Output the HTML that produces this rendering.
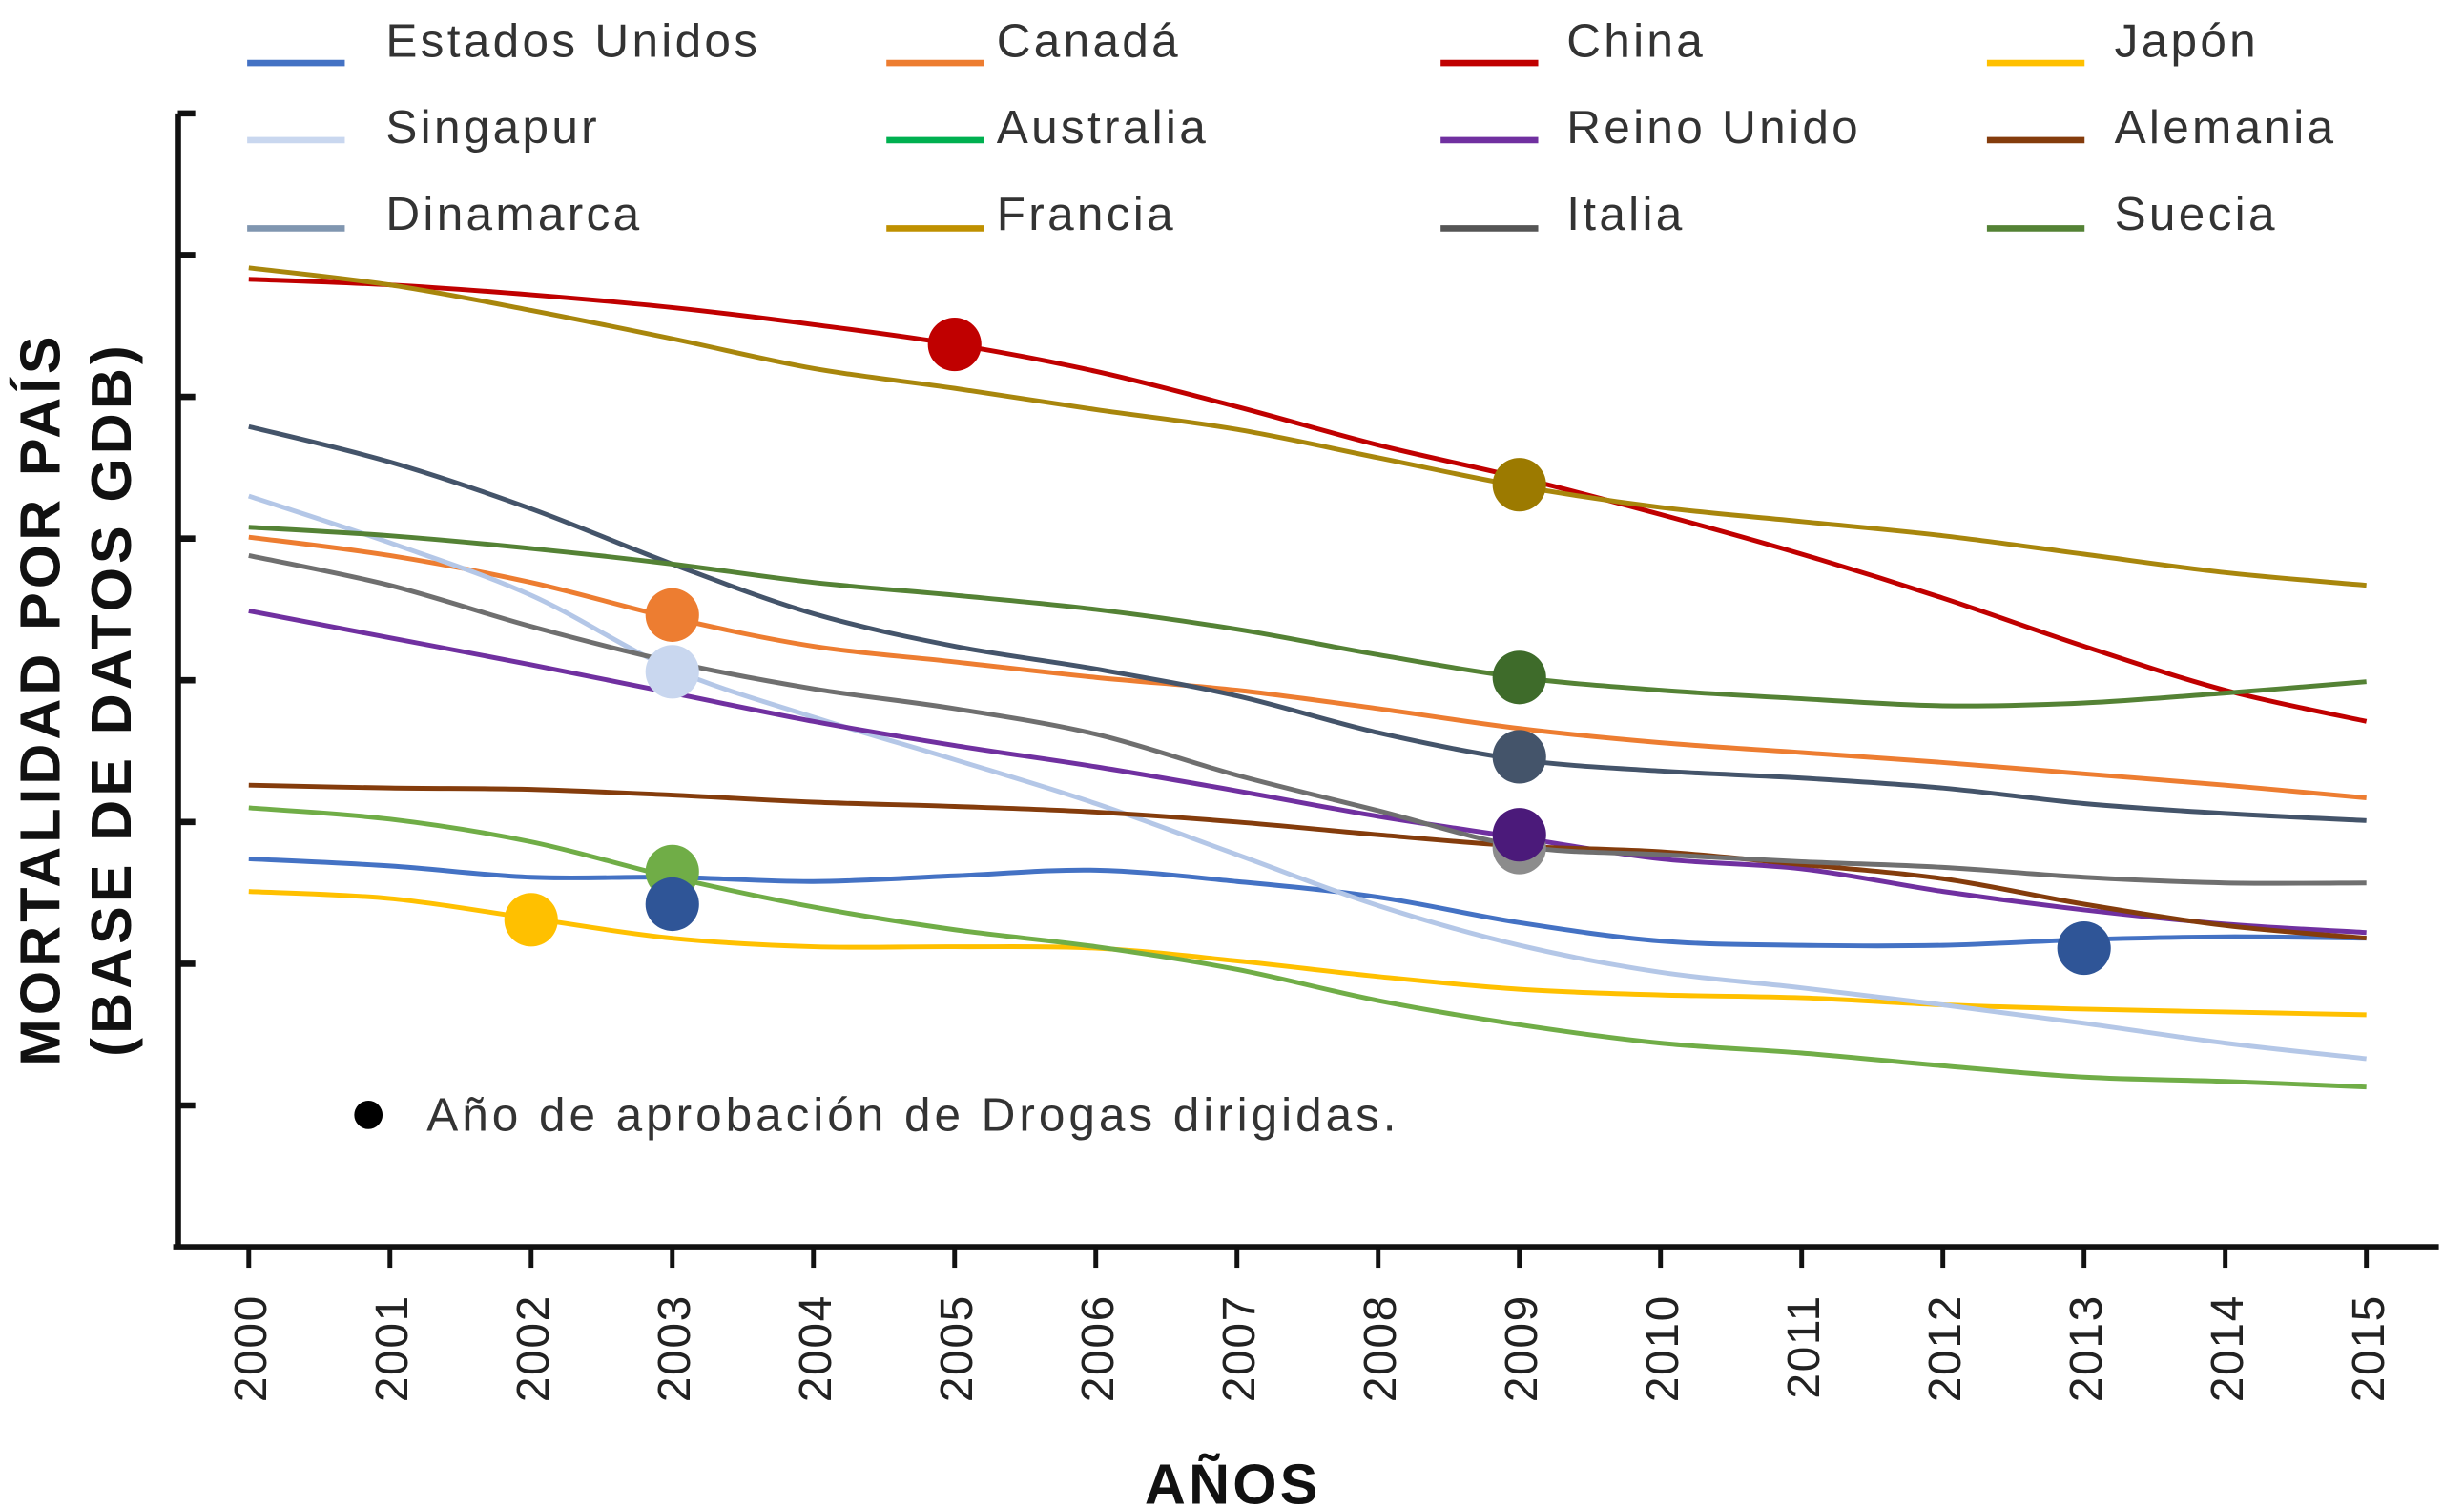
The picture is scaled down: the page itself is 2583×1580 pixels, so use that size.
<!DOCTYPE html>
<html><head><meta charset="utf-8"><style>
html,body{margin:0;padding:0;background:#fff;}
svg{display:block;font-family:"Liberation Sans",sans-serif;}
</style></head><body>
<svg id="chart" width="2583" height="1580" viewBox="0 0 1565 957" preserveAspectRatio="none" xmlns="http://www.w3.org/2000/svg">
<g id="axes"></g>
<g id="lines"></g>
<g id="dots"></g>
<g id="legend"></g>
<text transform="translate(38,444) rotate(-90)" text-anchor="middle" font-size="36" font-weight="bold" letter-spacing="2.5" fill="#111">MORTALIDAD POR PAÍS</text>
<text transform="translate(83,444) rotate(-90)" text-anchor="middle" font-size="36" font-weight="bold" letter-spacing="2.5" fill="#111">(BASE DE DATOS GDB)</text>
<text x="783" y="955" text-anchor="middle" font-size="36" font-weight="bold" letter-spacing="2" fill="#111">AÑOS</text>
<circle cx="234" cy="708" r="9" fill="#000"/>
<text x="271" y="718" font-size="30" letter-spacing="2.4" fill="#333">Año de aprobación de Drogas dirigidas.</text>
</svg>
<script>
const years = [2000,2001,2002,2003,2004,2005,2006,2007,2008,2009,2010,2011,2012,2013,2014,2015];
const yTicks = [10,20,30,40,50,60,70,80];
const seriesNames = ["Estados Unidos","Canadá","China","Japón","Singapur","Australia","Reino Unido","Alemania","Dinamarca","Francia","Italia","Suecia"];
const seriesColors = ["#4472c4","#ed7d31","#c00000","#ffc000","#b4c7e7","#70ad47","#7030a0","#843c0c","#44546a","#a8860c","#6f6f6f","#548235"];
const legendColors = ["#4472c4","#ed7d31","#c00000","#ffc000","#c9d7ef","#00b050","#7030a0","#843c0c","#8096b0","#bf9000","#555555","#548235"];
const usValues = [27.4,26.9,26.1,26.1,25.8,26.2,26.6,25.8,24.7,22.9,21.6,21.3,21.3,21.7,21.9,21.8];
const canadaValues = [50.1,48.8,46.9,44.4,42.4,41.3,40.2,39.3,38.0,36.6,35.6,34.9,34.2,33.4,32.6,31.7];
const chinaValues = [68.3,67.9,67.2,66.3,65.1,63.7,61.8,59.3,56.6,54.3,51.7,48.9,45.8,42.4,39.3,37.1];
const japonValues = [25.1,24.6,23.2,21.8,21.2,21.2,21.1,20.2,19.1,18.2,17.8,17.6,17.1,16.8,16.6,16.4];
const singapurValues = [53.0,49.7,46.0,40.8,37.4,34.4,31.3,27.7,24.1,21.3,19.4,18.3,17.1,15.8,14.4,13.3];
const australiaValues = [31.0,30.2,28.6,26.1,24.0,22.4,21.2,19.6,17.4,15.7,14.4,13.7,12.8,12.0,11.7,11.3];
const reinoUnidoValues = [44.9,43.0,41.1,39.1,37.1,35.4,33.9,32.2,30.4,28.9,27.4,26.7,25.1,23.8,22.8,22.2];
const alemaniaValues = [32.6,32.4,32.3,31.9,31.4,31.1,30.7,30.0,29.1,28.3,27.9,27.0,26.0,24.2,22.7,21.8];
const dinamarcaValues = [57.9,55.4,52.1,48.2,44.7,42.4,40.8,38.9,36.3,34.4,33.6,33.1,32.4,31.3,30.6,30.1];
const franciaValues = [69.1,67.9,66.1,64.1,62.0,60.6,59.1,57.7,55.7,53.7,52.2,51.2,50.2,48.9,47.6,46.7];
const italiaValues = [48.8,46.7,43.8,41.3,39.4,38.0,36.2,33.3,30.8,28.3,27.7,27.2,26.8,26.1,25.7,25.7];
const sueciaValues = [50.8,50.2,49.3,48.2,46.9,46.0,45.0,43.6,41.8,40.2,39.3,38.7,38.2,38.4,39.1,39.9];
const allValues = [usValues,canadaValues,chinaValues,japonValues,singapurValues,australiaValues,reinoUnidoValues,alemaniaValues,dinamarcaValues,franciaValues,italiaValues,sueciaValues];
const dotSeries = [2,9,1,4,5,0,3,11,8,10,6,0];
const dotYears = [2005,2009,2003,2003,2003,2003,2002,2009,2009,2009,2009,2013];
const dotValues = [63.7,53.8,44.6,40.6,26.5,24.2,23.1,40.2,34.6,28.2,29.1,21.1];
const dotColors = ["#c00000","#9c7a00","#ed7d31","#c9d7ef","#70ad47","#2f5597","#ffc000","#3e6b2a","#44546a","#8c8c8c","#4b1a7a","#2f5597"];

const NS="http://www.w3.org/2000/svg";
const x0=158, xStep=(1503-158)/15;
function xs(yr){return x0+(yr-2000)*xStep;}
function ys(v){return 792-v*9;}
function mk(tag,attrs,parent){const e=document.createElementNS(NS,tag);for(const k in attrs)e.setAttribute(k,attrs[k]);parent.appendChild(e);return e;}

const axes=document.getElementById('axes');
let e=mk('line',{x1:113,y1:72,x2:113,y2:793,stroke:'#111','stroke-width':4},axes);


e=mk('line',{x1:110,y1:792,x2:1549,y2:792,stroke:'#111','stroke-width':4},axes);


yTicks.forEach(t=>{
  const tk=mk('line',{x1:113,y1:ys(t),x2:124,y2:ys(t),stroke:'#111','stroke-width':4},axes);
  
  
});
years.forEach(yr=>{
  const tk=mk('line',{x1:xs(yr),y1:792,x2:xs(yr),y2:805,stroke:'#111','stroke-width':3},axes);
  
  
  const lb=mk('text',{transform:`translate(${xs(yr)+11},822) rotate(-90)`,'text-anchor':'end','font-size':29,'letter-spacing':1,fill:'#222'},axes);
  lb.textContent=yr;
  
  
});

function smoothPath(pts){
  let d=`M${pts[0][0]},${pts[0][1]}`;
  for(let i=0;i<pts.length-1;i++){
    const p0=pts[Math.max(i-1,0)],p1=pts[i],p2=pts[i+1],p3=pts[Math.min(i+2,pts.length-1)];
    const c1=[p1[0]+(p2[0]-p0[0])/6,p1[1]+(p2[1]-p0[1])/6];
    const c2=[p2[0]-(p3[0]-p1[0])/6,p2[1]-(p3[1]-p1[1])/6];
    d+=` C${c1[0]},${c1[1]} ${c2[0]},${c2[1]} ${p2[0]},${p2[1]}`;
  }
  return d;
}
const lines=document.getElementById('lines');
allValues.forEach((vals,i)=>{
  const pts=vals.map((v,j)=>[xs(years[j]),ys(v)]);
  const p=mk('path',{d:smoothPath(pts),fill:'none',stroke:seriesColors[i],'stroke-width':3},lines);
  
  
});
const dots=document.getElementById('dots');
dotValues.forEach((v,i)=>{
  const c=mk('circle',{cx:xs(dotYears[i]),cy:ys(v),r:17,fill:dotColors[i]},dots);
  
  
});
const legend=document.getElementById('legend');
const colX=[157,563,915,1262], txtX=[245,633,995,1343], rowY=[40,89,145], rowT=[36,91,146];
const legendOrder=[0,1,2,3,4,5,6,7,8,9,10,11];
legendOrder.forEach((si,k)=>{
  const r=Math.floor(k/4), c=k%4;
  const g=mk('g',{},legend);
  
  
  mk('line',{x1:colX[c],y1:rowY[r],x2:colX[c]+62,y2:rowY[r],stroke:legendColors[si],'stroke-width':4},g);
  const t=mk('text',{x:txtX[c],y:rowT[r],'font-size':30,'letter-spacing':2,fill:'#333'},g);
  t.textContent=seriesNames[si];
});
</script>
</body></html>
